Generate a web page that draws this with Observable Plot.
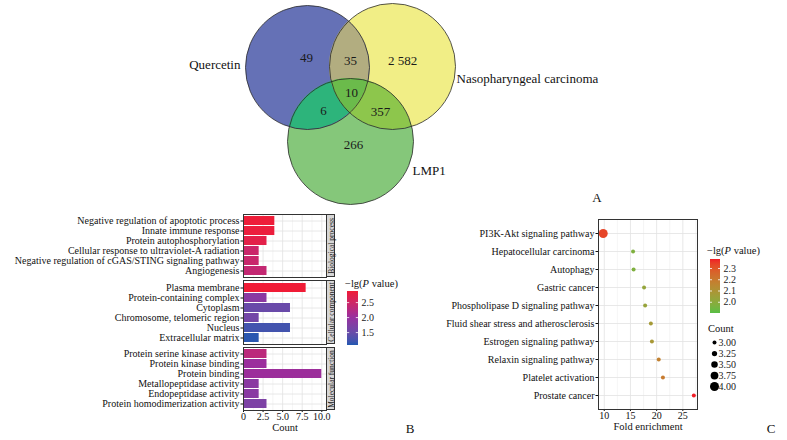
<!DOCTYPE html>
<html><head><meta charset="utf-8">
<script src="https://cdn.jsdelivr.net/npm/d3@7"></script>
<script src="https://cdn.jsdelivr.net/npm/@observablehq/plot@0.6"></script>
<style>
body{margin:0;background:#fff;}
#root{position:relative;width:787px;height:440px;overflow:hidden;font-family:"Liberation Serif",serif;color:#111;background:#fff;}
.abs{position:absolute;}
.abs svg{display:block;overflow:visible;}
.strip{position:absolute;background:#d6d6d6;border:0.8px solid #333;box-sizing:border-box;}
.strip span{position:absolute;left:50%;top:50%;transform:translate(-50%,-50%) rotate(-90deg);white-space:nowrap;font-size:7.5px;color:#1a1a1a;}
.lbl{position:absolute;white-space:nowrap;line-height:1;}
.ramp{position:absolute;}
</style></head>
<body><div id="root"></div>
<script>
// ---------------- DATA ----------------
// Panel A: Venn
const vennSets = ["Quercetin", "Nasopharyngeal carcinoma", "LMP1"];
const vennRegions = ["Q", "N", "L", "QN", "QL", "NL", "QNL"];
const vennCounts = [49, 2582, 266, 35, 6, 357, 10];

// Panel B: GO enrichment (Count, -lg P)
const goGroups = ["Biological process", "Cellular component", "Molecular function"];
const bpTerms = ["Negative regulation of apoptotic process", "Innate immune response", "Protein autophosphorylation", "Cellular response to ultraviolet-A radiation", "Negative regulation of cGAS/STING signaling pathway", "Angiogenesis"];
const bpCounts = [4, 4, 3, 2, 2, 3];
const bpLogP = [2.85, 2.82, 2.72, 2.45, 2.43, 2.38];
const ccTerms = ["Plasma membrane", "Protein-containing complex", "Cytoplasm", "Chromosome, telomeric region", "Nucleus", "Extracellular matrix"];
const ccCounts = [8, 3, 6, 2, 6, 2];
const ccLogP = [2.87, 1.85, 1.5, 1.6, 1.22, 1.1];
const mfTerms = ["Protein serine kinase activity", "Protein kinase binding", "Protein binding", "Metallopeptidase activity", "Endopeptidase activity", "Protein homodimerization activity"];
const mfCounts = [3, 3, 10, 2, 2, 3];
const mfLogP = [2.3, 2.02, 2.03, 1.85, 1.83, 1.7];
const goCountTicks = [0, 2.5, 5, 7.5, 10];
const goCountMinor = [1.25, 3.75, 6.25, 8.75];
const goLegendTicks = [1.5, 2.0, 2.5];

// Panel C: KEGG enrichment
const keggTerms = ["PI3K-Akt signaling pathway", "Hepatocellular carcinoma", "Autophagy", "Gastric cancer", "Phospholipase D signaling pathway", "Fluid shear stress and atherosclerosis", "Estrogen signaling pathway", "Relaxin signaling pathway", "Platelet activation", "Prostate cancer"];
const keggFold = [9.8, 15.5, 15.6, 17.6, 17.8, 18.9, 19.1, 20.4, 21.2, 27.1];
const keggCount = [4, 3, 3, 3, 3, 3, 3, 3, 3, 3];
const keggLogP = [2.33, 1.97, 1.97, 2.02, 2.03, 2.07, 2.08, 2.17, 2.19, 2.38];
const keggFoldTicks = [10, 15, 20, 25];
const keggFoldMinor = [12.5, 17.5, 22.5, 27.5];
const keggLegendTicks = [2.0, 2.1, 2.2, 2.3];
const keggSizeTicks = [3.0, 3.25, 3.5, 3.75, 4.0];

// ---------------- LAYOUT / STYLE ----------------
const FONT = "Liberation Serif";
const AXFONT = "10px";
const vennLayout = {
  circles: {Q: [307, 67, 62], N: [392, 66, 63], L: [350, 141, 63]},
  fills: {Q: "#6571B6", N: "#F1EE86", L: "#85C77A", QN: "#B2AD80", QL: "#2DB47B", NL: "#8DC64C", QNL: "#6BBB4B"},
  countPos: {Q: [306, 57], N: [402, 60], L: [353, 144], QN: [350, 60], QL: [323, 110], NL: [380, 111], QNL: [351, 92]},
  setPos: [[240, 64, "end"], [456, 78, "start"], [412, 170, "start"]]
};
const root = document.getElementById("root");
function place(node, left, top) {
  const d = document.createElement("div");
  d.className = "abs"; d.style.left = left + "px"; d.style.top = top + "px";
  d.appendChild(node); root.appendChild(d); return d;
}
function label(html, x, y, anchor, size, extra) {
  const d = document.createElement("div");
  d.className = "lbl"; d.innerHTML = html;
  d.style.fontSize = size + "px";
  d.style.left = x + "px"; d.style.top = y + "px";
  const tx = anchor === "end" ? "-100%" : anchor === "middle" ? "-50%" : "0";
  d.style.transform = `translate(${tx},-50%)`;
  if (extra) Object.assign(d.style, extra);
  root.appendChild(d); return d;
}
const fmtCount = n => n >= 1000 ? d3.format(",")(n).replace(",", " ") : String(n);

// ---------------- PANEL A : VENN ----------------
function lens(ids, n = 600) {
  const cs = ids.map(k => vennLayout.circles[k]);
  const x0 = d3.max(cs, c => c[0] - c[2]), x1 = d3.min(cs, c => c[0] + c[2]);
  const pts = [];
  for (let i = 0; i <= n; i++) {
    const x = x0 + (x1 - x0) * i / n;
    let top = -Infinity, bot = Infinity;
    for (const [cx, cy, r] of cs) {
      const h = Math.sqrt(Math.max(0, r * r - (x - cx) ** 2));
      top = Math.max(top, cy - h); bot = Math.min(bot, cy + h);
    }
    if (bot >= top) pts.push({x, y1: top, y2: bot});
  }
  return pts;
}
const circleData = ["Q", "N", "L"].map((k, i) => ({key: k, name: vennSets[i], cx: vennLayout.circles[k][0], cy: vennLayout.circles[k][1], r: vennLayout.circles[k][2]}));
const countData = vennRegions.map((k, i) => ({key: k, n: vennCounts[i], x: vennLayout.countPos[k][0], y: vennLayout.countPos[k][1]}));
const setLabelData = vennSets.map((s, i) => ({name: s, x: vennLayout.setPos[i][0], y: vennLayout.setPos[i][1], anchor: vennLayout.setPos[i][2]}));
const vennMarks = [
  Plot.dot(circleData, {x: "cx", y: "cy", r: "r", fill: d => vennLayout.fills[d.key], fillOpacity: 1, stroke: "none"})
];
for (const k of ["QN", "QL", "NL", "QNL"]) {
  vennMarks.push(Plot.areaY(lens(k.split("")), {x: "x", y1: "y1", y2: "y2", fill: vennLayout.fills[k]}));
}
vennMarks.push(Plot.dot(circleData, {x: "cx", y: "cy", r: "r", fill: "none", stroke: "#2a2a2a", strokeWidth: 0.8}));
vennMarks.push(Plot.text(countData, {x: "x", y: "y", text: d => fmtCount(d.n), fontSize: 13, fill: "#1a1a1a"}));
for (const a of ["start", "end"]) {
  vennMarks.push(Plot.text(setLabelData.filter(d => d.anchor === a), {x: "x", y: "y", text: "name", textAnchor: a, fontSize: 13, fill: "#111"}));
}
const venn = Plot.plot({
  width: 787, height: 205, margin: 0,
  style: {fontFamily: FONT, background: "none", overflow: "visible"},
  x: {domain: [0, 787], range: [0, 787], axis: null},
  y: {domain: [0, 205], range: [0, 205], axis: null},
  r: {type: "linear", domain: [0, 100], range: [0, 100]},
  marks: vennMarks
});
place(venn, 0, 0);
label("A", 597, 197, "middle", 13);

// ---------------- PANEL B : GO BARS ----------------
const bColor = {type: "linear", domain: [1.07, 2.0, 2.87], range: ["#2158B1", "#982E9F", "#F01C36"], interpolate: "lab"};
const facetTops = [214, 280, 347];
const facetH = [63, 64, 63];
const goSets = [[bpTerms, bpCounts, bpLogP], [ccTerms, ccCounts, ccLogP], [mfTerms, mfCounts, mfLogP]];
goSets.forEach(([terms, counts, lps], gi) => {
  const bottom = gi === 2;
  const data = terms.map((t, i) => ({term: t, count: counts[i], lp: lps[i]}));
  const marks = [
    Plot.ruleX(goCountMinor, {stroke: "#ebebeb", strokeWidth: 0.5}),
    Plot.ruleX(goCountTicks, {stroke: "#e2e2e2", strokeWidth: 0.8}),
    Plot.ruleY(terms, {stroke: "#e2e2e2", strokeWidth: 0.8}),
    Plot.barX(data, {x: "count", y: "term", fill: "lp"}),
    Plot.frame({stroke: "#333", strokeWidth: 1})
  ];
  if (bottom) marks.push(Plot.text(["Count"], {text: d => d, frameAnchor: "bottom", dy: 20, fontSize: 10.5, fill: "#111"}));
  const p = Plot.plot({
    width: 340, height: facetH[gi] + (bottom ? 30 : 0),
    marginLeft: 243, marginRight: 14, marginTop: 0, marginBottom: bottom ? 30 : 0,
    style: {fontFamily: FONT, fontSize: AXFONT, color: "#111", background: "none", overflow: "visible"},
    x: bottom ? {domain: [0, 10.6], ticks: goCountTicks, tickFormat: d => d === 0 ? "0" : d.toFixed(1), tickSize: 2, tickPadding: 0, label: null}
              : {domain: [0, 10.6], axis: null},
    y: {domain: terms, paddingInner: 0.1, paddingOuter: 0.15, tickSize: 2.5, tickPadding: 1.5, label: null},
    color: bColor,
    marks
  });
  place(p, 0, facetTops[gi]);
  const s = document.createElement("div");
  s.className = "strip";
  s.style.left = "326px"; s.style.top = facetTops[gi] + "px"; s.style.width = "9px"; s.style.height = facetH[gi] + "px";
  s.innerHTML = `<span>${goGroups[gi]}</span>`;
  root.appendChild(s);
});
label("B", 410, 428, "middle", 13);

// Legend helper (vertical colour bar)
function colorbar(scaleOpts, left, top, w, h, ticks) {
  const sc = Plot.scale({color: scaleOpts});
  const [lo, hi] = [scaleOpts.domain[0], scaleOpts.domain[scaleOpts.domain.length - 1]];
  const stops = d3.range(0, 1.0001, 1 / 16).map(t => `${sc.apply(lo + (hi - lo) * t)} ${(t * 100).toFixed(1)}%`);
  const tp = Plot.plot({
    width: w + 30, height: h + 10, marginLeft: 0, marginRight: 30, marginTop: 5, marginBottom: 5,
    style: {fontFamily: FONT, fontSize: AXFONT, color: "#222", background: "none", overflow: "visible"},
    x: {domain: [0, 1], axis: null},
    y: {domain: [lo, hi], ticks, tickFormat: ".1f", axis: "right", tickSize: 0, tickPadding: 3, label: null},
    marks: []
  });
  place(tp, left, top - 5);
  const r = document.createElement("div");
  r.className = "ramp";
  r.style.left = left + "px"; r.style.top = top + "px"; r.style.width = w + "px"; r.style.height = h + "px";
  r.style.background = `linear-gradient(to top, ${stops.join(", ")})`;
  root.appendChild(r);
  const tk = Plot.plot({
    width: w, height: h, margin: 0,
    style: {background: "none", overflow: "visible"},
    x: {domain: [0, 1], axis: null},
    y: {domain: [lo, hi], axis: null},
    marks: [
      Plot.ruleY(ticks, {x1: 0, x2: 0.2, stroke: "white", strokeWidth: 0.8}),
      Plot.ruleY(ticks, {x1: 0.8, x2: 1, stroke: "white", strokeWidth: 0.8})
    ]
  });
  place(tk, left, top);
}
label("&minus;lg(<i>P</i> value)", 345, 284, "start", 10.5);
colorbar(bColor, 347, 291, 11, 54, goLegendTicks);

// ---------------- PANEL C : KEGG DOTS ----------------
const cColor = {type: "linear", domain: [1.9, 2.38], range: ["#58BE45", "#F01E26"], interpolate: "lab"};
const rScale = {type: "linear", domain: [3, 4], range: [2.0, 4.5]};
const keggData = keggTerms.map((t, i) => ({term: t, fold: keggFold[i], count: keggCount[i], lp: keggLogP[i]}));
const kegg = Plot.plot({
  width: 300, height: 230, marginLeft: 198, marginRight: 3, marginTop: 9, marginBottom: 31,
  style: {fontFamily: FONT, fontSize: AXFONT, color: "#111", background: "none", overflow: "visible"},
  x: {domain: [8.9, 27.8], ticks: keggFoldTicks, tickSize: 2, tickPadding: 0, label: null},
  y: {type: "point", domain: keggTerms, padding: 0.6, tickSize: 2.5, tickPadding: 1.5, label: null},
  r: rScale,
  color: cColor,
  marks: [
    Plot.ruleX(keggFoldMinor, {stroke: "#ebebeb", strokeWidth: 0.5}),
    Plot.ruleX(keggFoldTicks, {stroke: "#e2e2e2", strokeWidth: 0.8}),
    Plot.ruleY(keggTerms, {stroke: "#e2e2e2", strokeWidth: 0.8}),
    Plot.dot(keggData, {x: "fold", y: "term", r: "count", fill: "lp", stroke: "none"}),
    Plot.frame({stroke: "#333", strokeWidth: 1}),
    Plot.text(["Fold enrichment"], {text: d => d, frameAnchor: "bottom", dy: 20, fontSize: 10.5, fill: "#111"})
  ]
});
place(kegg, 400, 210);
label("C", 771, 428, "middle", 13);

// Legend C (color)
label("&minus;lg(<i>P</i> value)", 707, 251, "start", 10.5);
colorbar(cColor, 710, 259, 10, 54, keggLegendTicks);
// Legend C (size)
label("Count", 708, 329, "start", 10.5);
const sizeLeg = Plot.plot({
  width: 50, height: 56, marginLeft: 0, marginRight: 0, marginTop: 6, marginBottom: 6,
  style: {fontFamily: FONT, fontSize: AXFONT, color: "#222", background: "none", overflow: "visible"},
  y: {type: "point", domain: keggSizeTicks, padding: 0, axis: null},
  r: rScale,
  marks: [
    Plot.dot(keggSizeTicks, {y: d => d, r: d => d, fill: "black", frameAnchor: "left", dx: 10}),
    Plot.text(keggSizeTicks, {y: d => d, text: d => d.toFixed(2), frameAnchor: "left", dx: 14, textAnchor: "start", fill: "#222"})
  ]
});
place(sizeLeg, 704, 336);
</script>
</body></html>
